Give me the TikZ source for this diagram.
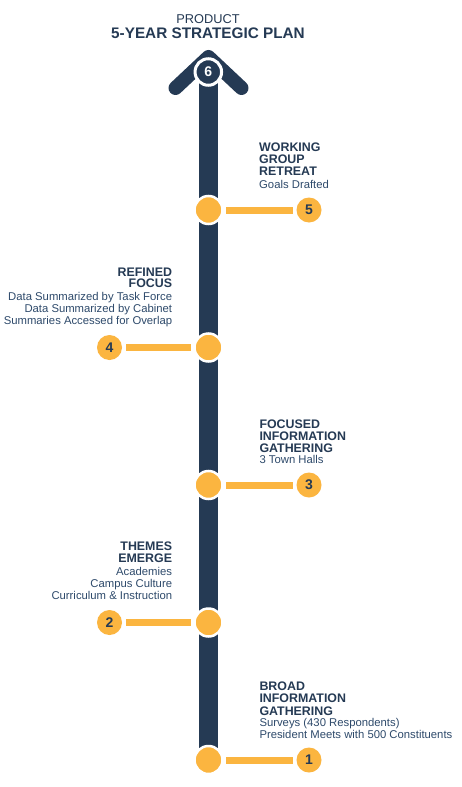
\documentclass[tikz,border=0pt]{standalone}
\usepackage{fontspec}
\setmainfont{Liberation Sans}
\definecolor{navy}{HTML}{253A54}
\definecolor{bodyc}{HTML}{2E4A6B}
\definecolor{gold}{HTML}{FBB540}
\begin{document}
\begin{tikzpicture}[x=1pt,y=-1pt,
  hd/.style={inner sep=0, text=navy, font=\fontsize{12.4}{14}\selectfont\bfseries},
  bd/.style={inner sep=0, text=bodyc, font=\fontsize{11.3}{13}\selectfont},
  dot/.style={circle, fill=gold, draw=white, line width=2.5pt, minimum size=28pt, inner sep=0},
  num/.style={circle, fill=gold, minimum size=25pt, inner sep=0, text=navy, font=\fontsize{14}{16}\selectfont\bfseries},
  link/.style={gold, line width=7pt, shorten <=2.5pt, shorten >=3.5pt}]
\fill[white] (0,0) rectangle (462,787);
\useasboundingbox (0,0) rectangle (462,787);
% title
\node[inner sep=0, anchor=base, text=navy, font=\fontsize{12.8}{14}\selectfont] (tprod) at (208,23.5) {PRODUCT};
\node[inner sep=0, anchor=base, text=navy, font=\fontsize{15.3}{17}\selectfont\bfseries] (tplan) at (208,38.8) {5-YEAR STRATEGIC PLAN};
% spine
\coordinate (bartop) at (208.5,75);
\coordinate (barbot) at (208.5,748);
\draw[navy, line width=19pt, line cap=round] (bartop) -- (barbot);
\coordinate (chl) at (175.5,88);
\coordinate (chm) at (208.5,57);
\coordinate (chr) at (241.5,88);
\draw[navy, line width=14pt, line cap=round, line join=round] (chl) -- (chm) -- (chr);
\node[circle, fill=navy, draw=white, line width=3pt, minimum size=26.5pt, inner sep=0, text=white, font=\fontsize{14}{16}\selectfont\bfseries] (n6) at (208.3,72) {6};
% milestones
\node[dot] (d5) at (208.5,210) {};
\node[num] (n5) at (309,210) {5};
\node[dot] (d4) at (208.5,347.5) {};
\node[num] (n4) at (109.5,347.5) {4};
\node[dot] (d3) at (208.5,485) {};
\node[num] (n3) at (309,485) {3};
\node[dot] (d2) at (208.5,622.5) {};
\node[num] (n2) at (109.5,622.5) {2};
\node[dot] (d1) at (208.5,760) {};
\node[num] (n1) at (309,760) {1};
\draw[link] (d5.east) -- (n5.west);
\draw[link] (d4.west) -- (n4.east);
\draw[link] (d3.east) -- (n3.west);
\draw[link] (d2.west) -- (n2.east);
\draw[link] (d1.east) -- (n1.west);
% block 5
\node[hd, anchor=base west] (h5a) at (259,151) {WORKING};
\node[hd, anchor=base west] (h5b) at (259,163.2) {GROUP};
\node[hd, anchor=base west] (h5c) at (259,175.4) {RETREAT};
\node[bd, anchor=base west] (b5a) at (259,188) {Goals Drafted};
% block 4
\node[hd, anchor=base east] (h4a) at (172.3,276) {REFINED};
\node[hd, anchor=base east] (h4b) at (172.3,287.6) {FOCUS};
\node[bd, anchor=base east] (b4a) at (172.3,300) {Data Summarized by Task Force};
\node[bd, anchor=base east] (b4b) at (172.3,312.3) {Data Summarized by Cabinet};
\node[bd, anchor=base east] (b4c) at (172.3,324.5) {Summaries Accessed for Overlap};
% block 3
\node[hd, anchor=base west] (h3a) at (259.3,428.8) {FOCUSED};
\node[hd, anchor=base west] (h3b) at (259.3,440.7) {INFORMATION};
\node[hd, anchor=base west] (h3c) at (259.3,452.3) {GATHERING};
\node[bd, anchor=base west] (b3a) at (259.3,463.8) {3 Town Halls};
% block 2
\node[hd, anchor=base east] (h2a) at (172.3,550.7) {THEMES};
\node[hd, anchor=base east] (h2b) at (172.3,562.3) {EMERGE};
\node[bd, anchor=base east] (b2a) at (172.3,575) {Academies};
\node[bd, anchor=base east] (b2b) at (172.3,587.3) {Campus Culture};
\node[bd, anchor=base east] (b2c) at (172.3,599) {Curriculum \& Instruction};
% block 1
\node[hd, anchor=base west] (h1a) at (259.3,690.7) {BROAD};
\node[hd, anchor=base west] (h1b) at (259.3,702.7) {INFORMATION};
\node[hd, anchor=base west] (h1c) at (259.3,715) {GATHERING};
\node[bd, anchor=base west] (b1a) at (259.3,726.5) {Surveys (430 Respondents)};
\node[bd, anchor=base west] (b1b) at (259.3,738.5) {President Meets with 500 Constituents};
\end{tikzpicture}
\end{document}
